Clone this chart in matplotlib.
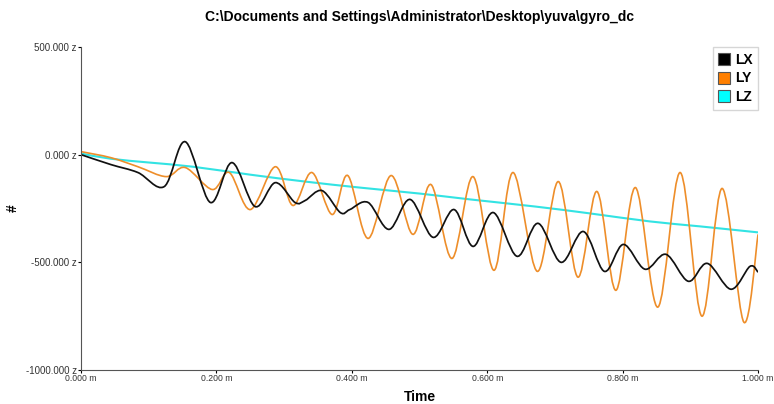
import numpy as np
import matplotlib.pyplot as plt
from matplotlib.path import Path
from matplotlib.patches import PathPatch
from matplotlib.ticker import FuncFormatter

plt.rcParams['font.family'] = ['Liberation Sans', 'DejaVu Sans']

# values (peaks / troughs of each trace)
lx_t = [0.000, 0.044, 0.084, 0.123, 0.154, 0.191, 0.223, 0.257, 0.287, 0.316,
        0.331, 0.356, 0.383, 0.397, 0.424, 0.455, 0.486, 0.520, 0.551, 0.579,
        0.609, 0.644, 0.675, 0.709, 0.742, 0.773, 0.801, 0.833, 0.864, 0.897,
        0.925, 0.960, 0.988, 1.000]
lx_v = [0, -46, -83, -148, 60, -222, -37, -241, -130, -222,
        -213, -167, -269, -255, -222, -347, -208, -384, -255, -426,
        -269, -472, -319, -500, -357, -542, -417, -532, -463, -588,
        -505, -625, -519, -546]

ly_t = [0.000, 0.044, 0.084, 0.126, 0.154, 0.194, 0.219, 0.250, 0.287, 0.313,
        0.341, 0.371, 0.394, 0.424, 0.458, 0.490, 0.517, 0.548, 0.579, 0.610,
        0.638, 0.674, 0.705, 0.734, 0.762, 0.790, 0.819, 0.852, 0.885, 0.917,
        0.947, 0.979, 1.000]
ly_v = [14, -14, -56, -102, -60, -162, -83, -255, -56, -236,
        -83, -278, -97, -389, -97, -370, -139, -482, -102, -537,
        -83, -542, -125, -569, -171, -630, -153, -708, -83, -750,
        -157, -778, -370]

lz_t = [0.000, 0.044, 0.102, 0.165, 0.250, 0.331, 0.412, 0.501, 0.575, 0.671,
        0.752, 0.840, 0.914, 1.000]
lz_v = [5, -19, -37, -56, -93, -125, -153, -181, -208, -241,
        -273, -310, -333, -361]

y_ticks = [500, 0, -500, -1000]
x_ticks = [0.0, 0.2, 0.4, 0.6, 0.8, 1.0]


def smooth_path(x, y):
    # Catmull-Rom curve through the read points, rendered as cubic Beziers
    p = np.column_stack([x, y]).astype(float)
    ext = np.vstack([p[0], p, p[-1]])
    verts = [p[0]]
    codes = [Path.MOVETO]
    for i in range(1, len(ext) - 2):
        c1 = ext[i] + (ext[i + 1] - ext[i - 1]) / 6
        c2 = ext[i + 1] - (ext[i + 2] - ext[i]) / 6
        verts += [c1, c2, ext[i + 1]]
        codes += [Path.CURVE4] * 3
    return Path(verts, codes)


fig = plt.figure(figsize=(7.74, 4.04), dpi=100)
ax = fig.add_axes([0.1047, 0.0842, 0.8747, 0.7995])

series = [
    ('LX', lx_t, lx_v, '#111111', '#000000', 1.25),
    ('LY', ly_t, ly_v, '#EE8E2A', '#FF7F00', 1.2),
    ('LZ', lz_t, lz_v, '#33E3E3', '#00FFFF', 1.5),
]
handles = []
for name, t, v, col, legcol, lw in series[::-1]:
    ax.add_patch(PathPatch(smooth_path(t, v), fill=False, edgecolor=col, lw=lw))
for name, t, v, col, legcol, lw in series:
    h, = ax.plot([], [], ls='none', marker='s', ms=9, mfc=legcol,
                 mec='#555555', mew=0.8, label=name)
    handles.append(h)

ax.set_xlim(0, 1)
ax.set_ylim(-1000, 500)
ax.set_xticks(x_ticks)
ax.set_yticks(y_ticks)
ax.xaxis.set_major_formatter(FuncFormatter(lambda v, p: '%.3f m' % v))
ax.yaxis.set_major_formatter(FuncFormatter(lambda v, p: '%.3f z' % v))
ax.tick_params(length=2, labelcolor='#333333', pad=1)
ax.tick_params(axis='y', labelsize=7)
ax.tick_params(axis='x', labelsize=6.2)
ax.spines['top'].set_visible(False)
ax.spines['right'].set_visible(False)
for s in ('left', 'bottom'):
    ax.spines[s].set_color('#555555')

ax.set_title('C:\\Documents and Settings\\Administrator\\Desktop\\yuva\\gyro_dc',
             fontsize=10, fontweight='bold', pad=19)
ax.set_xlabel('Time', fontsize=10, fontweight='bold', labelpad=5)
ax.set_ylabel('#', fontsize=10, fontweight='bold')
ax.yaxis.set_label_coords(-0.09, 0.5)

leg = ax.legend(handles=handles, loc='upper right', bbox_to_anchor=(1.0, 1.0),
                borderaxespad=0, fancybox=False, edgecolor='#cccccc',
                handlelength=0.8, handletextpad=0.4, labelspacing=0.35,
                prop={'size': 10, 'weight': 'bold'})

fig.savefig('out.png', dpi=100)
